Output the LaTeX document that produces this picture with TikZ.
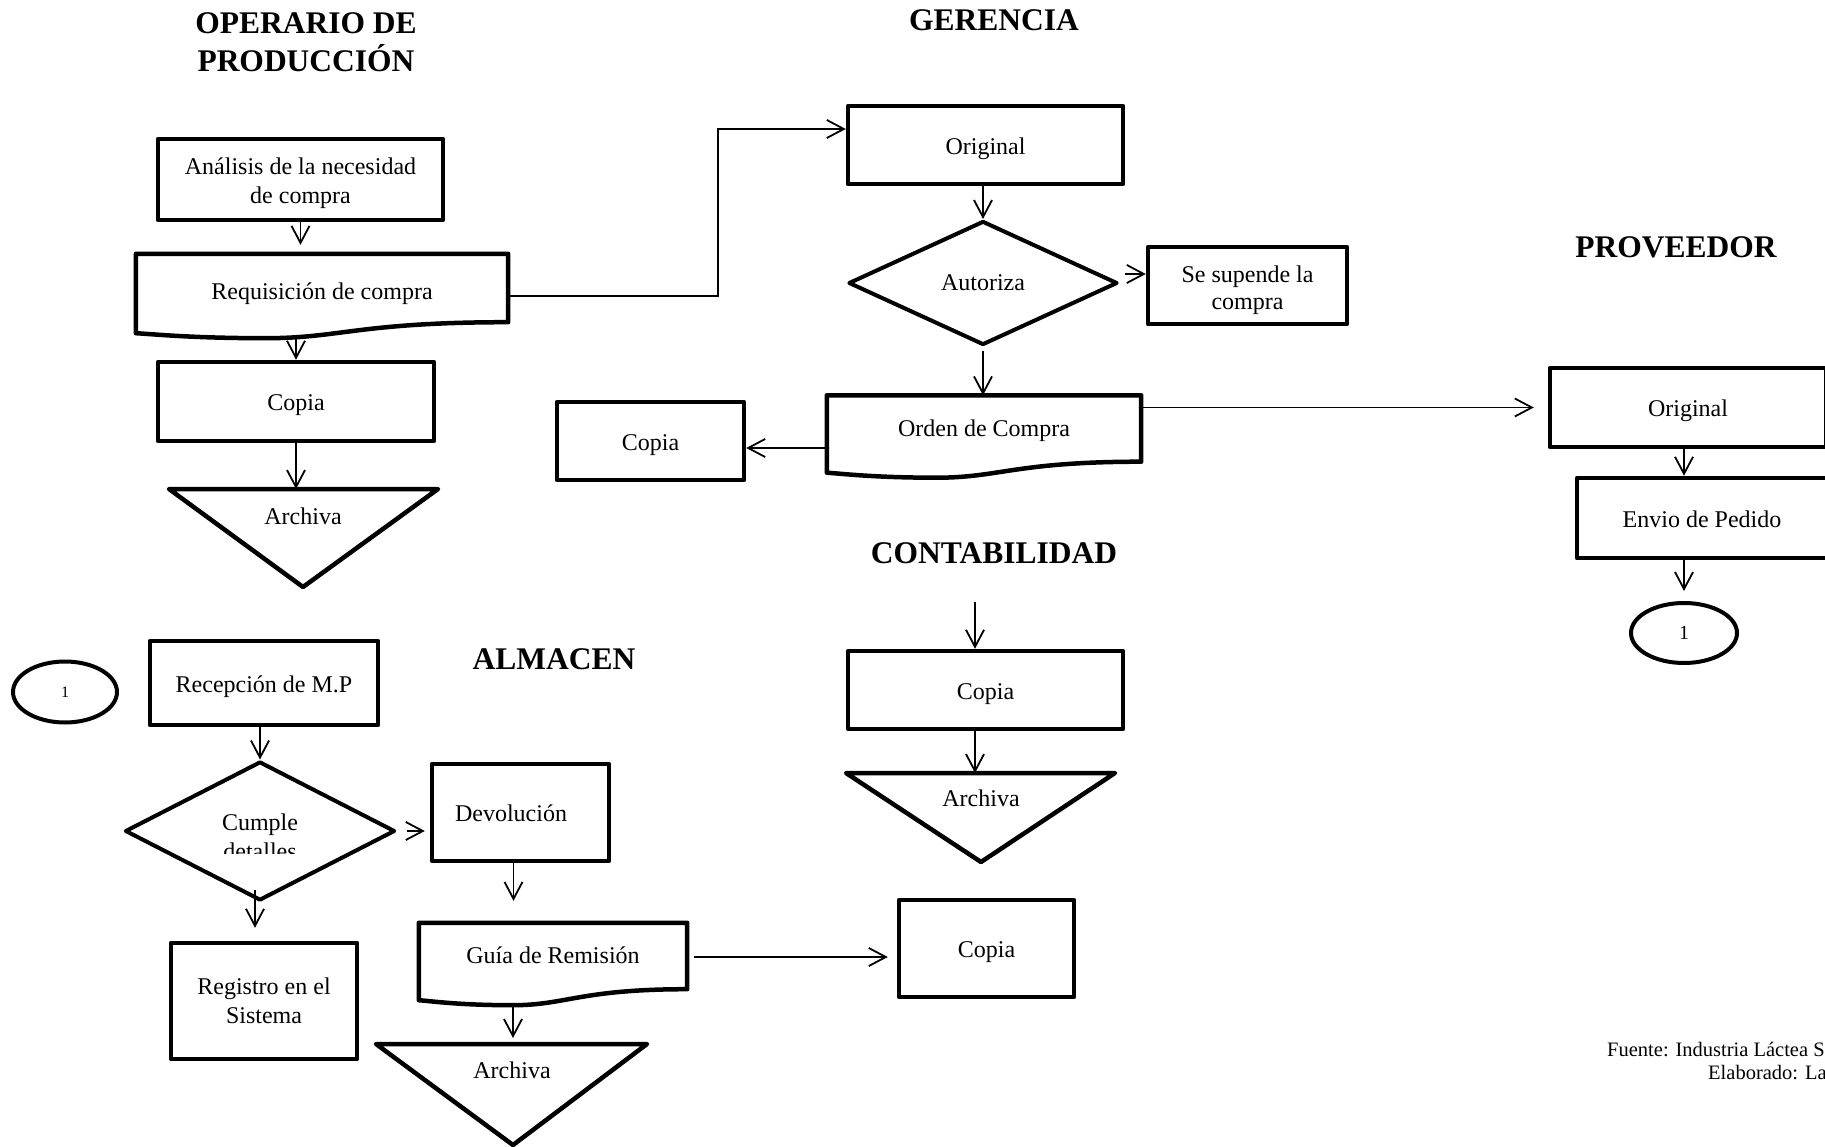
\documentclass[tikz,border=0pt]{standalone}
\usepackage{fontspec}
\setmainfont{Liberation Serif}
\usetikzlibrary{arrows.meta,shapes.geometric,calc}

\tikzset{
  every node/.style={font=\fontsize{24}{28.8}\selectfont},
  box/.style={draw, line width=4.5pt, line join=round, inner sep=0pt, align=center},
  oneline/.style={text height=24pt, text depth=5.5pt},
  docbox/.style={inner sep=0pt, align=center, text depth=17pt},
  outline/.style={line width=4.5pt, line join=round},
  decision/.style={diamond, draw, line width=4pt, line join=round, inner sep=0pt, align=center},
  connector/.style={ellipse, draw, line width=4pt, inner sep=0pt},
  heading/.style={font=\fontsize{31.5}{37.8}\selectfont\bfseries, align=center},
  footnote/.style={anchor=west, inner sep=0pt, font=\fontsize{20.5}{24}\selectfont},
  arr/.style={line width=1.8pt, -{Straight Barb[length=17pt,width=18pt,line width=1.8pt]}},
}

% document symbol: rectangle with a wavy lower edge, drawn round a named node
\newcommand\docoutline[1]{%
  \draw[outline] let \p1=(#1.north west), \p2=(#1.south east), \n1={\x2-\x1} in
    (\p1) -- (\x2,\y1) -- ($(\p2)+(0,-16)$)
    .. controls ($(\p2)+(-0.4*\n1,-16)$) and ($(\p2)+(-0.45*\n1,0)$) .. ($(\p2)+(-0.65*\n1,0)$)
    .. controls ($(\p2)+(-0.85*\n1,0)$) and ($(\p2)+(-0.95*\n1,-4)$) .. ($(\p2)+(-\n1,-5)$)
    -- cycle;}

\begin{document}
\begin{tikzpicture}[x=1pt, y=-1pt]
\useasboundingbox[fill=white] (0,0) rectangle (1825,1147);

% ---- headings
\node[heading] (hop) at (306,42) {OPERARIO DE\\PRODUCCIÓN};
\node[heading] (hger) at (994,20) {GERENCIA};
\node[heading] (hprov) at (1676,247) {PROVEEDOR};
\node[heading] (hcont) at (994,553) {CONTABILIDAD};
\node[heading] (halm) at (554,659) {ALMACEN};

% ---- production operator
\node[box, minimum width=285pt, minimum height=81pt] (anal) at (300.5,179.5) {};
\node[align=center] (analtxt) at (300.5,183) {Análisis de la necesidad\\de compra};
\node[docbox, text depth=10pt, minimum width=372pt, minimum height=84pt] (req) at (322,296) {Requisición de compra};
\docoutline{req}
\node[box, oneline, minimum width=276pt, minimum height=79pt] (copia1) at (296,401.5) {Copia};
\coordinate (arch1) at (303,489);
\draw[outline] ($(arch1)+(-134,0)$) -- ($(arch1)+(135,0)$) -- ($(arch1)+(0,98)$) -- cycle;
\node (arch1txt) at (303,516) {Archiva};

% ---- management
\node[box, oneline, minimum width=275pt, minimum height=78pt] (orig1) at (985.5,145) {Original};
\node[decision, minimum width=269pt, minimum height=124pt] (aut) at (983,283) {Autoriza};
\node[box, minimum width=199pt, minimum height=77pt] (sus) at (1247.5,285.5) {};
\node[align=center, font=\fontsize{24}{26.5}\selectfont] (sustxt) at (1247.5,290) {Se supende la\\compra};
\node[docbox, minimum width=314pt, minimum height=82pt] (orden) at (984,436.5) {Orden de Compra};
\docoutline{orden}
\node[box, oneline, minimum width=187pt, minimum height=78pt] (copia2) at (650.5,441) {Copia};

% ---- supplier
\node[box, oneline, minimum width=276pt, minimum height=79pt] (origP) at (1688,407.5) {Original};
\node[box, oneline, minimum width=250pt, minimum height=80pt] (envio) at (1702,518) {Envio de Pedido};
\node[connector, minimum width=106pt, minimum height=60pt, font=\fontsize{20}{24}\selectfont] (circP) at (1684,633) {1};

% ---- accounting
\coordinate (cin) at (975,602);
\node[box, oneline, minimum width=275pt, minimum height=78pt] (copiaC) at (985.5,690) {Copia};
\coordinate (arch2) at (981,773);
\draw[outline] ($(arch2)+(-135,0)$) -- ($(arch2)+(134,0)$) -- ($(arch2)+(0,89)$) -- cycle;
\node (arch2txt) at (981,798) {Archiva};
\node[box, oneline, minimum width=175pt, minimum height=97pt] (copia3) at (986.5,948.5) {Copia};

% ---- warehouse
\node[connector, minimum width=104pt, minimum height=61pt, font=\fontsize{16}{19}\selectfont] (circL) at (65,692) {1};
\node[box, oneline, minimum width=228pt, minimum height=84pt] (recep) at (264,683) {Recepción de M.P};
\node[decision, minimum width=270pt, minimum height=139pt] (cumple) at (260,831) {};
\begin{scope}
  \clip (120,760) rectangle (400,853);
  \node[align=center] (cumpletxt) at (260,836.5) {Cumple\\detalles};
\end{scope}
\node[box, minimum width=177pt, minimum height=97pt] (devol) at (520.5,812.5) {};
\node[oneline] (devoltxt) at (511,812.5) {Devolución};
\node[box, minimum width=186pt, minimum height=116pt] (registro) at (264,1001) {Registro en el\\Sistema};
\node[docbox, minimum width=268pt, minimum height=82pt] (guia) at (553,964) {Guía de Remisión};
\docoutline{guia}
\coordinate (arch3) at (513,1044);
\draw[outline] ($(arch3)+(-137,0)$) -- ($(arch3)+(134,0)$) -- ($(arch3)+(0,101)$) -- cycle;
\node (arch3txt) at (512,1070) {Archiva};

% ---- source note
\node[footnote] (src) at (1607,1050) {Fuente: Industria Láctea S};
\node[footnote] (elab) at (1708,1073) {Elaborado: La};

% ---- connectors
\draw[arr, shorten >=9pt] (anal.south) -- (anal.south |- req.north);
\draw[arr] (copia1.north |- req.south) -- (copia1.north);
\draw[arr] (copia1.south) -- (copia1.south |- arch1);
\coordinate (j1) at (718,129);
\draw[arr] (req.east) -| (j1) -- (j1 -| orig1.west);
\draw[arr] (orig1.south -| aut) -- (aut.north);
\draw[arr, shorten <=4pt] (aut.south) -- (aut.south |- orden.north);
\coordinate (as) at ($(aut.east)+(5,-9)$);
\draw[arr] (as) -- (as -| sus.west);
\coordinate (oc) at ($(orden.west)+(0,11.5)$);
\draw[arr] (oc) -- (oc -| copia2.east);
\draw[arr, shorten >=14pt] (orden.east |- origP) -- (origP.west);
\draw[arr] (origP.south -| circP) -- (circP |- envio.north);
\draw[arr, shorten >=10pt] (envio.south -| circP) -- (circP.north);
\draw[arr] (cin) -- (cin |- copiaC.north);
\draw[arr] (copiaC.south -| cin) -- (cin |- arch2);
\draw[arr] (recep.south -| cumple) -- (cumple.north);
\coordinate (cr) at (255,890);
\draw[arr, shorten >=13pt] (cr) -- (cr |- registro.north);
\draw[arr, shorten <=10pt, shorten >=5pt] (cumple.east) -- (cumple.east -| devol.west);
\coordinate (dv) at ($(devol.south)+(-7,0)$);
\draw[arr, shorten >=22pt] (dv) -- (dv |- guia.north);
\draw[arr, shorten >=6pt] (arch3 |- guia.south) -- (arch3);
\coordinate (gc) at ($(guia.east)+(7,-7)$);
\draw[arr, shorten >=9pt] (gc) -- (gc -| copia3.west);
\end{tikzpicture}
\end{document}
